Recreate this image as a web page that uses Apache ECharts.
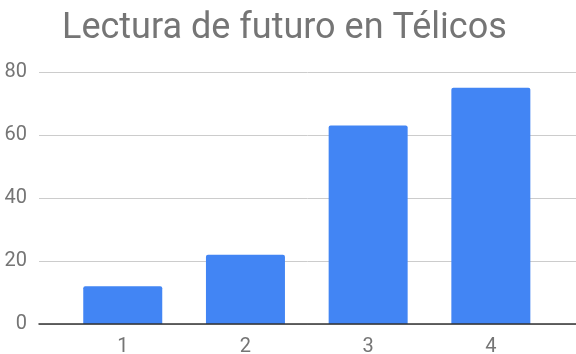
<!DOCTYPE html>
<html>
<head>
<meta charset="utf-8">
<script src="https://cdn.jsdelivr.net/npm/echarts@6/dist/echarts.min.js"></script>
<style>html,body{margin:0;padding:0;background:#fff;}#c{width:576px;height:354px;}</style>
</head>
<body>
<div id="c"></div>
<script>
var titleText = 'Lectura de futuro en Télicos';
var categories = ['1', '2', '3', '4'];
var values = [12, 22, 63, 75];
var yMin = 0, yMax = 80, yStep = 20;

var chart = echarts.init(document.getElementById('c'), null, {renderer: 'canvas'});
var gray = '#757575';
chart.setOption({
  animation: false,
  backgroundColor: '#ffffff',
  title: {
    text: titleText, left: 62, top: 11, padding: 0,
    textStyle: {fontFamily: 'Roboto', fontSize: 36, fontWeight: 'normal', color: gray}
  },
  grid: [
    {left: 39, right: 0, top: 72, bottom: 30, outerBoundsMode: 'none', containLabel: false},
    {left: 61.4, right: 23.8, top: 72, bottom: 30, outerBoundsMode: 'none', containLabel: false}
  ],
  xAxis: [
    {gridIndex: 0, type: 'category', data: [''], z: 5,
     axisLine: {show: true, lineStyle: {color: '#333333', width: 1.5}},
     axisTick: {show: false}, axisLabel: {show: false}, splitLine: {show: false}},
    {gridIndex: 1, type: 'category', data: categories,
     axisLine: {show: false}, axisTick: {show: false},
     axisLabel: {color: gray, fontFamily: 'Roboto', fontSize: 20, margin: 13}}
  ],
  yAxis: [
    {gridIndex: 0, type: 'value', min: yMin, max: yMax, interval: yStep,
     axisLine: {show: false}, axisTick: {show: false},
     axisLabel: {color: gray, fontFamily: 'Roboto', fontSize: 20, margin: 12},
     splitLine: {show: true, lineStyle: {color: '#cccccc', width: 1}}},
    {gridIndex: 1, type: 'value', min: yMin, max: yMax, interval: yStep, show: false,
     splitLine: {show: false}}
  ],
  series: [{
    type: 'bar', xAxisIndex: 1, yAxisIndex: 1, data: values,
    barWidth: 79,
    itemStyle: {color: '#4285F4', borderRadius: [2, 2, 0, 0]}
  }]
});
</script>
</body>
</html>
